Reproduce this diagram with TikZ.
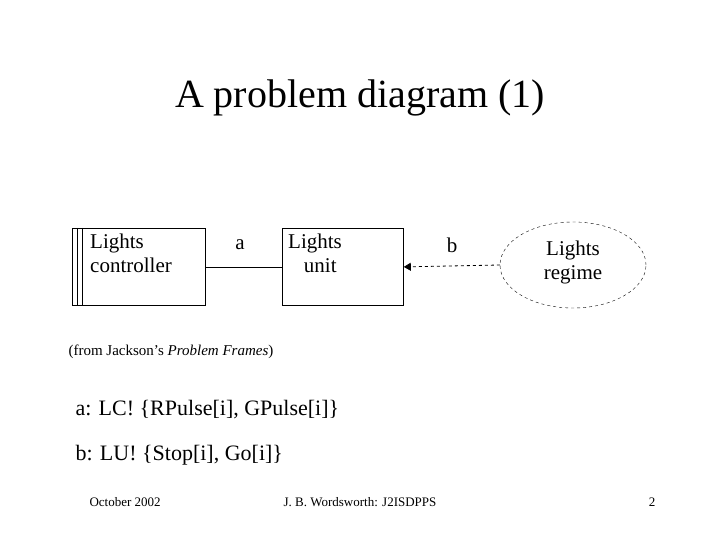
\documentclass[tikz,border=0pt]{standalone}
\usepackage{fontspec}
\setmainfont{Liberation Serif}
\usetikzlibrary{shapes.geometric,arrows.meta}
\begin{document}
\begin{tikzpicture}[x=1pt,y=-1pt,
  lbl/.style={font=\fontsize{21}{24}\selectfont,align=center,inner sep=0pt},
  box/.style={draw,thick}]
\useasboundingbox (0,0) rectangle (720,540);
\node[font=\fontsize{40}{44}\selectfont] (title) at (360,98) {A problem diagram (1)};
\node[box,minimum width=133pt,minimum height=77pt,anchor=north west] (lc) at (72,228) {};
\draw[thick] ([xshift=5pt]lc.north west) -- ([xshift=5pt]lc.south west);
\draw[thick] ([xshift=10pt]lc.north west) -- ([xshift=10pt]lc.south west);
\node[lbl,align=left,anchor=north west] (lct) at (90,234) {Lights\\controller};
\node[box,minimum width=121pt,minimum height=77pt,anchor=north west] (lu) at (282,228) {};
\node[lbl,anchor=north west] (lut) at (288,234) {Lights\\\ \ unit};
\node[draw,dashed,ellipse,minimum width=146pt,minimum height=86pt] (lr) at (573,265) {};
\node[lbl] (lrt) at (573,262) {Lights\\regime};
\draw[thick] (lc.east) -- (lu.west);
\draw[thick,dashed,-{Triangle[length=7pt,width=8pt]}] (lr.west) -- (lu.east);
\node[lbl] (a) at (240,245) {a};
\node[lbl] (b) at (452,245) {b};
\node[font=\fontsize{15}{18}\selectfont,anchor=west] (src) at (65,352) {(from Jackson's \textit{Problem Frames})};
\node[font=\fontsize{22}{26}\selectfont,anchor=west] (la) at (72,410) {a: LC! \{RPulse[i], GPulse[i]\}};
\node[font=\fontsize{22}{26}\selectfont,anchor=west] (lb) at (72,455) {b: LU! \{Stop[i], Go[i]\}};
\node[font=\fontsize{13}{16}\selectfont,anchor=west] (f1) at (86,502) {October 2002};
\node[font=\fontsize{13}{16}\selectfont] (f2) at (360,502) {J. B. Wordsworth: J2ISDPPS};
\node[font=\fontsize{13}{16}\selectfont,anchor=east] (f3) at (659,502) {2};
\end{tikzpicture}
\end{document}
